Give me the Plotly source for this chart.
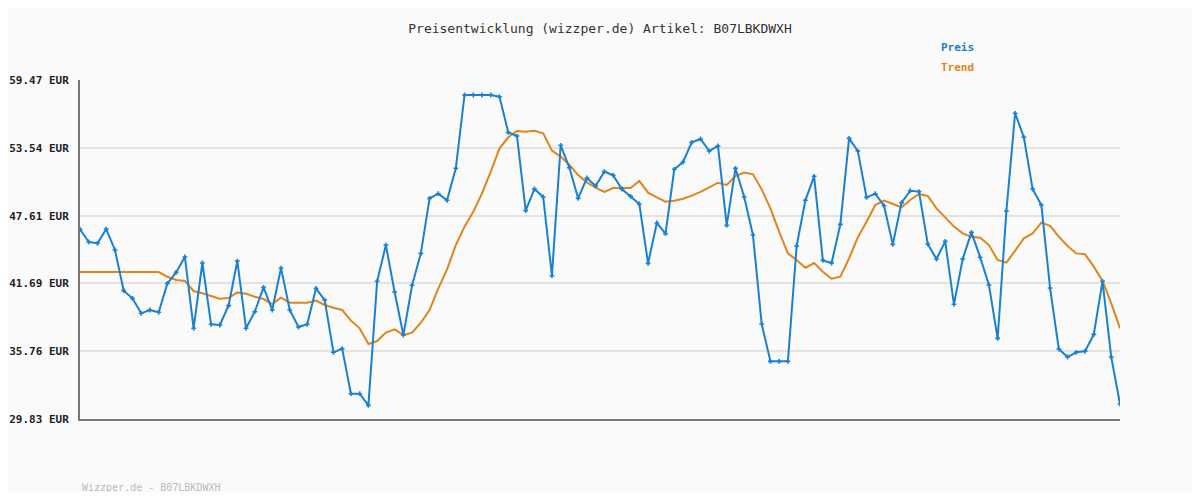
import plotly.graph_objects as go

# Values (EUR)
preis = [
    46.41, 45.31, 45.19, 46.44, 44.61, 41.05, 40.38, 39.07, 39.36, 39.16,
    41.69, 42.65, 44.00, 37.76, 43.47, 38.11, 38.05, 39.74, 43.64, 37.76,
    39.21, 41.34, 39.36, 43.03, 39.36, 37.87, 38.11, 41.25, 40.23, 35.66,
    35.98, 32.04, 32.04, 31.02, 41.87, 45.04, 40.93, 37.17, 41.52, 44.31,
    49.12, 49.53, 48.95, 51.75, 58.16, 58.16, 58.16, 58.16, 58.01, 54.89,
    54.57, 48.05, 49.94, 49.24, 42.36, 53.76, 51.80, 49.12, 50.90, 50.20,
    51.46, 51.14, 49.94, 49.30, 48.63, 43.44, 46.97, 46.03, 51.66, 52.30,
    54.02, 54.31, 53.26, 53.70, 46.76, 51.75, 49.24, 45.92, 38.14, 34.87,
    34.87, 34.87, 44.96, 48.95, 51.05, 43.70, 43.47, 46.85, 54.37, 53.26,
    49.21, 49.53, 48.48, 45.10, 48.74, 49.79, 49.71, 45.13, 43.82, 45.36,
    39.86, 43.82, 46.15, 43.97, 41.55, 36.88, 48.02, 56.56, 54.46, 49.94,
    48.54, 41.28, 35.95, 35.25, 35.66, 35.75, 37.23, 41.87, 35.25, 31.14,
]
trend = [
    42.68, 42.68, 42.68, 42.68, 42.68, 42.68, 42.68, 42.68, 42.68, 42.68,
    42.27, 41.98, 41.90, 41.02, 40.82, 40.58, 40.35, 40.41, 40.90, 40.79,
    40.52, 40.32, 39.88, 40.44, 40.00, 40.00, 40.00, 40.18, 39.80, 39.56,
    39.36, 38.43, 37.76, 36.39, 36.65, 37.38, 37.67, 37.17, 37.38, 38.25,
    39.36, 41.25, 42.91, 45.04, 46.65, 47.96, 49.56, 51.46, 53.50, 54.46,
    55.01, 54.95, 55.04, 54.81, 53.29, 52.77, 52.04, 51.16, 50.52, 50.06,
    49.68, 50.03, 50.03, 50.03, 50.64, 49.62, 49.21, 48.83, 48.92, 49.09,
    49.36, 49.68, 50.09, 50.49, 50.29, 51.08, 51.37, 51.22, 49.91, 48.25,
    46.20, 44.31, 43.73, 43.06, 43.47, 42.71, 42.10, 42.27, 43.88, 45.71,
    47.08, 48.54, 48.92, 48.60, 48.34, 48.98, 49.50, 49.33, 48.25, 47.46,
    46.65, 46.06, 45.77, 45.68, 45.04, 43.73, 43.50, 44.55, 45.63, 46.06,
    47.00, 46.71, 45.77, 44.96, 44.31, 44.23, 43.15, 41.90, 39.94, 37.76,
]
tick_vals = [29.83, 35.76, 41.69, 47.61, 53.54, 59.47]
tick_text = [f"{v:.2f} EUR" for v in tick_vals]

BLUE = "#1a80d0"
ORANGE = "#e0851a"
FONT = "DejaVu Sans Mono"

# page has an 8px body margin, so the figure is drawn 8px in from the window edge
OFF = 8
W, H = 1200 - 2 * OFF, 500 - 2 * OFF
L, T, R, B = 80 - OFF, 80 - OFF, 1200 - OFF - 1120, 500 - OFF - 419
PW, PH = W - L - R, H - T - B


def px(xp, yp):
    """window pixel -> paper coordinates"""
    return (xp - OFF - L) / PW, 1 - (yp - OFF - T) / PH


x = list(range(len(preis)))

fig = go.Figure()
fig.add_trace(go.Scatter(x=x, y=trend, mode="lines", name="Trend",
                         line=dict(color=ORANGE, width=2)))
fig.add_trace(go.Scatter(x=x, y=preis, mode="lines+markers", name="Preis",
                         line=dict(color=BLUE, width=2),
                         marker=dict(symbol="cross", size=4, color=BLUE)))

annots = []
for text, color, xp, yp, size in [
    ("<b>Preis</b>", BLUE, 939, 47, 11),
    ("<b>Trend</b>", ORANGE, 939, 68, 11),
    ("Wizzper.de - B07LBKDWXH", "#bbb", 80, 487, 10),
]:
    ax, ay = px(xp, yp)
    annots.append(dict(text=text, x=ax, y=ay, xref="paper", yref="paper",
                       showarrow=False, xanchor="left", yanchor="middle",
                       font=dict(color=color, size=size)))

fig.update_layout(
    width=W, height=H,
    paper_bgcolor="#fafafa", plot_bgcolor="#fafafa",
    margin=dict(l=L, r=R, t=T, b=B, autoexpand=False),
    showlegend=False,
    font=dict(family=FONT, size=11, color="#333"),
    title=dict(text="Preisentwicklung (wizzper.de) Artikel: B07LBKDWXH",
               x=0.5, y=1 - (28 - OFF) / H, xanchor="center", yanchor="middle",
               font=dict(size=13, color="#333")),
    annotations=annots,
)

fig.update_xaxes(range=[0, len(preis) - 1], showticklabels=False, showgrid=False,
                 showline=True, linecolor="#777", linewidth=2, zeroline=False,
                 automargin=False)
fig.update_yaxes(range=[29.83, 59.47], tickvals=tick_vals, ticktext=tick_text,
                 showgrid=True, gridcolor="#e3e3e3", gridwidth=2,
                 showline=True, linecolor="#777", linewidth=2, zeroline=False,
                 ticks="", ticklabelstandoff=7, automargin=False,
                 tickfont=dict(size=11, color="#222", weight="bold"))

fig.write_html("out.html")
